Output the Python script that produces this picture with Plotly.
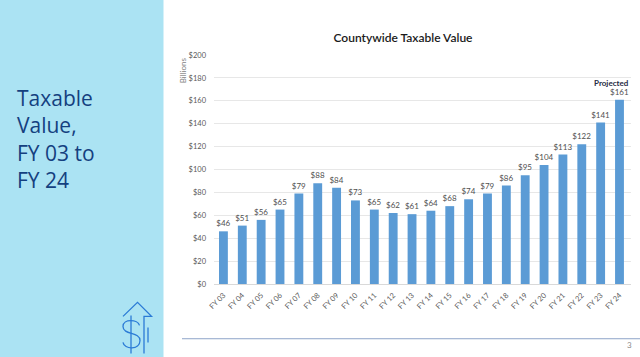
import plotly.graph_objects as go

categories = ["FY 03","FY 04","FY 05","FY 06","FY 07","FY 08","FY 09","FY 10","FY 11","FY 12","FY 13",
              "FY 14","FY 15","FY 16","FY 17","FY 18","FY 19","FY 20","FY 21","FY 22","FY 23","FY 24"]
values = [46,51,56,65,79,88,84,73,65,62,61,64,68,74,79,86,95,104,113,122,141,161]
y_ticks = [0,20,40,60,80,100,120,140,160,180,200]
y_tick_labels = ["$0","$20","$40","$60","$80","$100","$120","$140","$160","$180","$200"]
labels = [f"${v}" for v in values]
side_lines = ["Taxable", "Value,", "FY 03 to", "FY 24"]

W, H = 640, 357
L, R, T, B = 214, 631, 55.3, 283.7
FONT = "Lato"
SIDE_FONT = "Open Sans"
GREY = "#595959"

def px(x): return (x - L) / (R - L)
def py(y): return (B - y) / (B - T)

fig = go.Figure(go.Bar(
    x=categories, y=values, text=labels, textposition="outside", cliponaxis=False,
    constraintext="none",
    textfont=dict(family=FONT, size=8, color="#505050"),
    marker=dict(color="#5B9BD5", line=dict(width=0)), width=0.47,
    hoverinfo="x+y",
))

icon = "#2B7BD6"
shapes = [
    dict(type="rect", xref="paper", yref="paper", x0=px(0), x1=px(163.5), y0=py(H), y1=py(0),
         fillcolor="#ABE3F3", line_width=0, layer="below"),
    dict(type="line", xref="paper", yref="paper", x0=px(182), x1=px(W), y0=py(338.3), y1=py(338.3),
         line=dict(color="#8EA4C8", width=1)),
    dict(type="path", xref="paper", yref="paper",
         path=f"M {px(123)} {py(316)} L {px(137.5)} {py(302)} L {px(151.5)} {py(316)} L {px(144)} {py(316)} L {px(144)} {py(353)}",
         line=dict(color=icon, width=1.3)),
    dict(type="line", xref="paper", yref="paper", x0=px(148), x1=px(148), y0=py(327), y1=py(342),
         line=dict(color=icon, width=1.3)),
    dict(type="line", xref="paper", yref="paper", x0=px(131), x1=px(131), y0=py(315), y1=py(353),
         line=dict(color=icon, width=1.3)),
    dict(type="path", xref="paper", yref="paper",
         path=f"M {px(139.5)} {py(325)} C {px(138)} {py(319)} {px(123)} {py(318)} {px(123)} {py(326)} "
              f"C {px(123)} {py(335)} {px(140)} {py(331)} {px(140)} {py(340)} "
              f"C {px(140)} {py(350)} {px(124)} {py(349)} {px(123)} {py(342)}",
         line=dict(color=icon, width=1.3)),
]

annotations = [
    dict(x="FY 24", y=161, xref="x", yref="y", text="<b>Projected</b>", showarrow=False,
         yshift=17, xshift=-8, font=dict(family=FONT, size=8, color="#1F2A44")),
    dict(xref="paper", yref="paper", x=px(182.5), y=py(71), xanchor="center", yanchor="middle",
         text="Billions", textangle=-90, showarrow=False,
         font=dict(family=FONT, size=8, color="#7F7F7F")),
    dict(xref="paper", yref="paper", x=px(634), y=py(352), text="3", showarrow=False,
         font=dict(family=FONT, size=8, color="#8C8C8C")),
]
for line, yc in zip(side_lines, [98, 125.5, 153, 180]):
    annotations.append(dict(xref="paper", yref="paper", x=px(15), y=py(yc), xanchor="left", yanchor="middle",
                            showarrow=False, text=line, font=dict(family=SIDE_FONT, size=21, color="#14407F")))

fig.update_layout(
    width=W, height=H, autosize=False,
    margin=dict(l=L, r=W - R, t=T, b=H - B, pad=0),
    paper_bgcolor="white", plot_bgcolor="white",
    showlegend=False, bargap=0.53,
    title=dict(text="Countywide Taxable Value", x=403 / W, xanchor="center", y=1 - 38 / H, yanchor="middle",
               font=dict(family=FONT, size=12, color="#1a1a1a", weight=600)),
    xaxis=dict(type="category", tickangle=-45, ticks="", showgrid=False, showline=True, linecolor="#D9D9D9",
               tickfont=dict(family=FONT, size=7.5, color=GREY), ticklabelstandoff=3),
    yaxis=dict(range=[0, 200], tickvals=y_ticks, ticktext=y_tick_labels, ticks="", showline=False, zeroline=False,
               gridcolor="#E7E7E7", gridwidth=1, tickfont=dict(family=FONT, size=7.5, color=GREY), ticklabelstandoff=7),
    shapes=shapes, annotations=annotations,
)

fig.write_html("out.html", config=dict(displayModeBar=False), post_script="document.body.style.margin='0';")
